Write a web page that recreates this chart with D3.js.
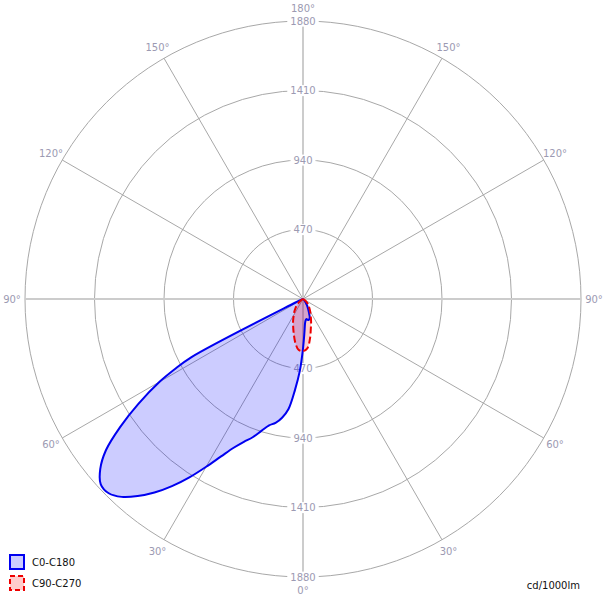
<!DOCTYPE html>
<html>
<head>
<meta charset="utf-8">
<script src="https://cdn.jsdelivr.net/npm/d3@7"></script>
<style>
  html, body { margin: 0; padding: 0; background: #fff; }
  svg { display: block; }
</style>
</head>
<body>
<svg id="chart" width="608" height="602"></svg>
<script>
// ---------- data ----------
const ringValues = [470, 940, 1410, 1880];
const ringLabels = ["470", "940", "1410", "1880"];
const spokeAngles = [0, 30, 60, 90, 120, 150, 180];
const degreeLabels = ["0°", "30°", "60°", "90°", "120°", "150°", "180°"];
const seriesNames = ["C0-C180", "C90-C270"];
const unitLabel = "cd/1000lm";

// gamma angles (deg from nadir) for C0-C180 plane
const gammaFine = [0, 2.5, 5, 7.5, 10, 12.5, 15, 17.5, 20, 22.5, 25, 27.5, 30, 32.5, 35, 37.5, 40, 42.5, 45, 47.5, 50, 52.5, 55, 57.5, 60, 61.25, 62.5, 65, 67.5, 70, 72.5, 75, 77.5, 80, 82.5, 85, 87.5, 90];
// C180 half (drawn on the left)
const c180 = [335, 485, 615, 750, 815, 858, 885, 935, 995, 1045, 1110, 1200, 1310, 1430, 1545, 1650, 1740, 1815, 1858, 1855, 1790, 1680, 1510, 1320, 1120, 995, 850, 60, 25, 12, 6, 3, 1, 0, 0, 0, 0, 0];
// C0 half (drawn on the right)
const c0 = [335, 225, 162, 143, 138, 144, 147, 142, 133, 110, 90, 74, 60, 48, 38, 30, 22, 16, 12, 8, 6, 4, 3, 2, 1, 0, 0, 0, 0, 0, 0, 0, 0, 0, 0, 0, 0, 0];

// gamma angles for C90-C270 plane
const gammaCoarse = [0, 5, 10, 15, 20, 25, 30, 35, 40, 45, 50, 55, 60, 65, 70, 75, 80, 85, 90];
const c270 = [352, 345, 300, 242, 195, 158, 125, 100, 78, 55, 36, 20, 10, 5, 2, 0, 0, 0, 0];
const c90 = [352, 335, 272, 205, 160, 123, 98, 76, 60, 48, 32, 20, 10, 5, 2, 0, 0, 0, 0];

// ---------- layout ----------
const W = 608, H = 602;
const cx = 303, cy = 299, R = 278;
const labelColor = "#9c9ab2";
const gridColor = "#a8a8a8";
const fontFamily = "'DejaVu Sans', Verdana, sans-serif";
const fs = 10;

const svg = d3.select("#chart");
const r = d3.scaleLinear().domain([0, 1880]).range([0, R]);
const g = svg.append("g").attr("transform", `translate(${cx},${cy})`);

// grid circles
g.selectAll("circle.ring").data(ringValues).join("circle")
  .attr("class", "ring")
  .attr("r", d => r(d))
  .attr("fill", "none")
  .attr("stroke", gridColor)
  .attr("stroke-width", 1);

// spokes (angle measured from nadir, both sides)
const thin = [30, 60, 120, 150];
const spokeData = [];
thin.forEach(a => { spokeData.push({a, side: 1}); spokeData.push({a, side: -1}); });
g.selectAll("line.spoke").data(spokeData).join("line")
  .attr("class", "spoke")
  .attr("x1", 0).attr("y1", 0)
  .attr("x2", d => d.side * R * Math.sin(d.a * Math.PI / 180))
  .attr("y2", d => R * Math.cos(d.a * Math.PI / 180))
  .attr("stroke", gridColor)
  .attr("stroke-width", 1);

// main axes (0-180 and 90-90)
g.append("line").attr("x1", -R).attr("x2", R).attr("y1", 0).attr("y2", 0)
  .attr("stroke", "#cccccc").attr("stroke-width", 2);
g.append("line").attr("x1", 0).attr("x2", 0).attr("y1", -R).attr("y2", R)
  .attr("stroke", "#cccccc").attr("stroke-width", 2);

// ring value labels (top and bottom) with white background
const ringLabelData = [];
ringValues.forEach((v, i) => {
  ringLabelData.push({v, t: ringLabels[i], s: -1});
  ringLabelData.push({v, t: ringLabels[i], s: 1});
});
const rl = g.selectAll("g.rl").data(ringLabelData).join("g").attr("class", "rl")
  .attr("transform", d => `translate(0,${d.s * r(d.v)})`);
rl.append("text")
  .attr("text-anchor", "middle")
  .attr("dy", "0.36em")
  .attr("font-family", fontFamily)
  .attr("font-size", fs)
  .attr("fill", labelColor)
  .text(d => d.t);
rl.each(function() {
  const t = d3.select(this).select("text");
  const bb = t.node().getBBox();
  d3.select(this).insert("rect", "text")
    .attr("x", bb.x - 3).attr("y", bb.y)
    .attr("width", bb.width + 6).attr("height", bb.height)
    .attr("fill", "#fff");
});

// degree labels around
const degData = [];
spokeAngles.forEach((a, i) => {
  if (a === 0 || a === 180) degData.push({a, s: 1, t: degreeLabels[i]});
  else { degData.push({a, s: 1, t: degreeLabels[i]}); degData.push({a, s: -1, t: degreeLabels[i]}); }
});
const LR = R + 13;
g.selectAll("text.deg").data(degData).join("text")
  .attr("class", "deg")
  .attr("x", d => d.s * LR * Math.sin(d.a * Math.PI / 180))
  .attr("y", d => LR * Math.cos(d.a * Math.PI / 180))
  .attr("dy", "0.36em")
  .attr("text-anchor", "middle")
  .attr("font-family", fontFamily)
  .attr("font-size", fs)
  .attr("fill", labelColor)
  .text(d => d.t);

// ---------- curves ----------
function buildPoints(gammas, leftVals, rightVals) {
  const pts = [];
  for (let i = gammas.length - 1; i >= 0; i--) {
    pts.push({ang: Math.PI + gammas[i] * Math.PI / 180, v: leftVals[i]});
  }
  for (let i = 1; i < gammas.length; i++) {
    pts.push({ang: Math.PI - gammas[i] * Math.PI / 180, v: rightVals[i]});
  }
  return pts;
}
const radial = d3.lineRadial()
  .angle(d => d.ang)
  .radius(d => r(d.v))
  .curve(d3.curveCatmullRomClosed.alpha(0.5));

const bluePts = buildPoints(gammaFine, c180, c0);
const redPts = buildPoints(gammaCoarse, c270, c90);

g.append("path").attr("d", radial(bluePts))
  .attr("fill", "rgba(0,0,255,0.2)").attr("stroke", "none");
g.append("path").attr("d", radial(redPts))
  .attr("fill", "rgba(255,0,0,0.2)").attr("stroke", "none");
g.append("path").attr("d", radial(bluePts))
  .attr("fill", "none").attr("stroke", "#0000f0").attr("stroke-width", 2)
  .attr("stroke-linejoin", "round");
g.append("path").attr("d", radial(redPts))
  .attr("fill", "none").attr("stroke", "#ee0000").attr("stroke-width", 2)
  .attr("stroke-dasharray", "7,3");

// ---------- legend ----------
const legend = svg.append("g");
const legItems = [
  {name: seriesNames[0], fill: "#ccccff", stroke: "#0000f0", dash: null, y: 555},
  {name: seriesNames[1], fill: "#ffcccc", stroke: "#ee0000", dash: "5,3", y: 576}
];
legItems.forEach(d => {
  legend.append("rect")
    .attr("x", 10).attr("y", d.y).attr("width", 14).attr("height", 14)
    .attr("fill", d.fill).attr("stroke", d.stroke).attr("stroke-width", 2)
    .attr("stroke-dasharray", d.dash);
  legend.append("text")
    .attr("x", 32).attr("y", d.y + 7).attr("dy", "0.36em")
    .attr("font-family", fontFamily).attr("font-size", fs)
    .attr("fill", "#111")
    .text(d.name);
});

svg.append("text")
  .attr("x", 580).attr("y", 585).attr("dy", "0.36em")
  .attr("text-anchor", "end")
  .attr("font-family", fontFamily).attr("font-size", fs)
  .attr("fill", "#111")
  .text(unitLabel);
</script>
</body>
</html>
